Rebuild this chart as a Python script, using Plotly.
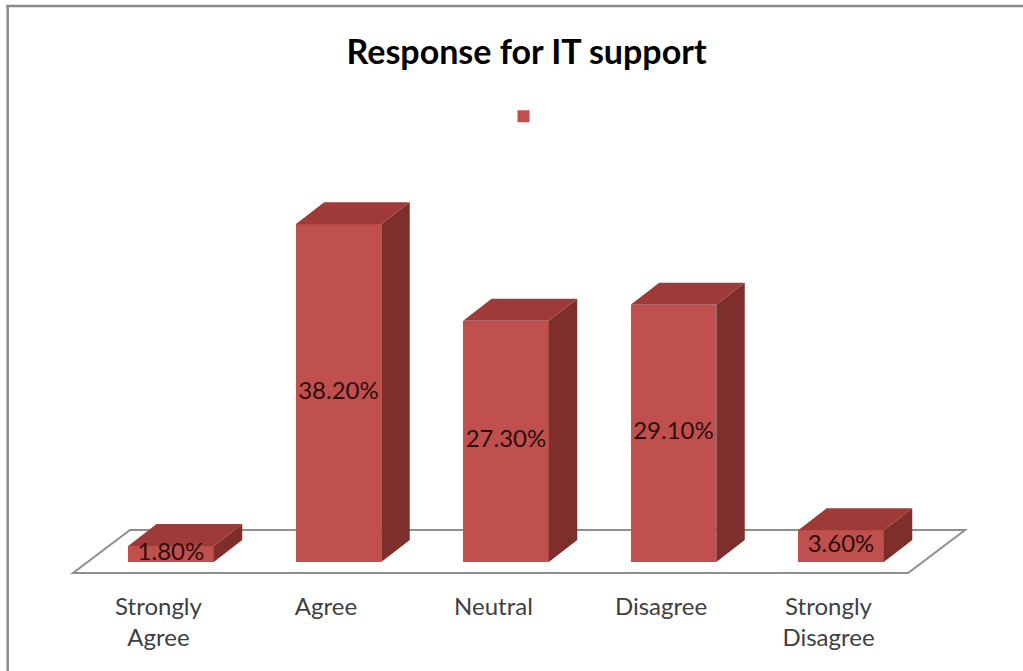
import plotly.graph_objects as go

# Survey responses for IT support
categories = ["Strongly<br>Agree", "Agree", "Neutral", "Disagree", "Strongly<br>Disagree"]
percentages = [1.8, 38.2, 27.3, 29.1, 3.6]
value_labels = ["1.80%", "38.20%", "27.30%", "29.10%", "3.60%"]

# Pseudo-3D styling
FRONT = "#C0504D"
TOP = "#9E3A37"
SIDE = "#7E2E2B"
BAR_W = 0.511        # bar width in category units
BAR_OFF = -0.181     # left edge of bar relative to category position
DEPTH_X = 0.170      # horizontal depth offset (category units)
DEPTH_Y = 2.49       # vertical depth offset (value units)

xs = list(range(len(categories)))

fig = go.Figure()

# Side and top faces give the columns their depth
for x, v in zip(xs, percentages):
    xl = x + BAR_OFF
    xr = xl + BAR_W
    fig.add_trace(go.Scatter(
        x=[xr, xr, xr + DEPTH_X, xr + DEPTH_X, xr],
        y=[0, v, v + DEPTH_Y, DEPTH_Y, 0],
        mode="lines", fill="toself", fillcolor=SIDE,
        line=dict(width=0, color=SIDE), hoverinfo="skip", showlegend=False))
    fig.add_trace(go.Scatter(
        x=[xl, xr, xr + DEPTH_X, xl + DEPTH_X, xl],
        y=[v, v, v + DEPTH_Y, v + DEPTH_Y, v],
        mode="lines", fill="toself", fillcolor=TOP,
        line=dict(width=0, color=TOP), hoverinfo="skip", showlegend=False))

# Front faces
fig.add_trace(go.Bar(
    x=xs, y=percentages, width=BAR_W, offset=BAR_OFF,
    marker=dict(color=FRONT, line=dict(width=0)),
    name=" ", showlegend=True, hoverinfo="skip"))

# Value labels centred on each column
fig.add_trace(go.Scatter(
    x=[x + BAR_OFF + BAR_W / 2 for x in xs],
    y=[v / 2 for v in percentages],
    text=value_labels, mode="text",
    textfont=dict(family="Lato", size=24, color="#2e0d0c"),
    hoverinfo="skip", showlegend=False))

# Floor plane
fx0, fx1, bx0, bx1 = -0.51, 4.475, -0.17, 4.815
fy, by = -1.24, 3.62
fig.add_shape(type="path",
              path=f"M {fx0},{fy} L {fx1},{fy} L {bx1},{by} L {bx0},{by} Z",
              xref="x", yref="y", layer="below",
              line=dict(color="#8f8f8f", width=2), fillcolor="white")

# Chart frame (top and left edges)
fig.add_shape(type="line", xref="paper", yref="paper",
              x0=0.006, x1=1.0, y0=0.9897, y1=0.9897,
              line=dict(color="#8a8a8a", width=2.5))
fig.add_shape(type="line", xref="paper", yref="paper",
              x0=0.0075, x1=0.0075, y0=0.9897, y1=-0.2,
              line=dict(color="#8a8a8a", width=2.5))

fig.update_layout(
    width=1023, height=671,
    margin=dict(l=0, r=0, t=0, b=86),
    paper_bgcolor="white", plot_bgcolor="white",
    title=dict(text="<b>Response for IT support</b>",
               x=0.5147, xref="container", xanchor="center",
               y=0.9225, yref="container", yanchor="middle",
               font=dict(family="Lato", size=34, color="#000000")),
    legend=dict(x=0.4922, y=0.8013, xanchor="left", yanchor="middle",
                font=dict(size=12), bgcolor="rgba(0,0,0,0)"),
    xaxis=dict(range=[-0.946, 5.161], tickvals=xs, ticktext=categories,
               showgrid=False, zeroline=False, showline=False, ticks="",
               tickfont=dict(family="Lato", size=24, color="#404040"),
               ticklabelstandoff=5, fixedrange=True),
    yaxis=dict(range=[-2.60, 63.57], visible=False, showgrid=False,
               zeroline=False, fixedrange=True),
    bargap=0,
)

fig.write_html("out.html")
